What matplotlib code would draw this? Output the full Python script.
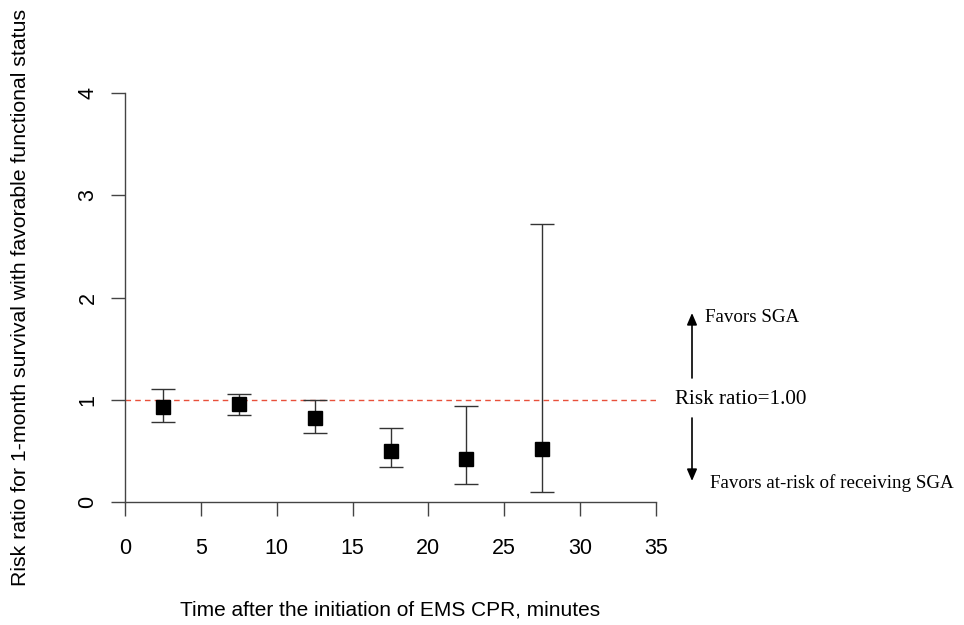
import matplotlib
matplotlib.use('Agg')
import matplotlib.pyplot as plt
import numpy as np

# time intervals (midpoints, minutes) and risk ratios with 95% CI
time_mid = [2.5, 7.5, 12.5, 17.5, 22.5, 27.5]
risk_ratio = [0.93, 0.96, 0.82, 0.50, 0.42, 0.52]
ci_lower = [0.78, 0.85, 0.67, 0.34, 0.18, 0.10]
ci_upper = [1.11, 1.06, 1.00, 0.72, 0.94, 2.72]

x_ticks = [0, 5, 10, 15, 20, 25, 30, 35]
y_ticks = [0, 1, 2, 3, 4]

sans = 'Liberation Sans'
serif = 'Liberation Serif'
axis_col = '#444444'

fig = plt.figure(figsize=(9.64, 6.25), dpi=100)
ax = fig.add_axes([125 / 964, 1 - 502 / 625, (656 - 125) / 964, (502 - 93) / 625])

rr = np.array(risk_ratio)
yerr = np.array([rr - np.array(ci_lower), np.array(ci_upper) - rr])

# reference line at 1
ax.plot([0, 35], [1, 1], color='#e8503a', linestyle=(0, (4, 3)), linewidth=1.0, zorder=1)

ax.errorbar(time_mid, rr, yerr=yerr, fmt='none', ecolor='#333333', elinewidth=1.0,
            capsize=8.5, capthick=1.0, zorder=2)
ax.plot(time_mid, rr, linestyle='none', marker='s', markersize=10, color='black', zorder=3)

ax.set_xlim(0, 35)
ax.set_ylim(0, 4)
ax.set_xticks(x_ticks)
ax.set_yticks(y_ticks)

for side in ('top', 'right'):
    ax.spines[side].set_visible(False)
for side in ('left', 'bottom'):
    ax.spines[side].set_color(axis_col)
    ax.spines[side].set_linewidth(1.0)

ax.tick_params(axis='both', direction='out', length=10, width=1.0, color=axis_col,
               labelsize=15.5)
ax.tick_params(axis='x', pad=16)
ax.tick_params(axis='y', pad=9)
for lab in ax.get_xticklabels():
    lab.set_fontfamily(sans)
for lab in ax.get_yticklabels():
    lab.set_fontfamily(sans)
    lab.set_rotation(90)
    lab.set_va('center')

fig.text(390 / 964, 1 - 610 / 625, 'Time after the initiation of EMS CPR, minutes',
         ha='center', va='center', fontsize=15, family=sans)
fig.text(21 / 964, 1 - 297 / 625, 'Risk ratio for 1-month survival with favorable functional status',
         ha='center', va='center', rotation=90, fontsize=15.3, family=sans)

# annotation at the right side
fig.text(675 / 964, 1 - 400 / 625, 'Risk ratio=1.00', ha='left', va='center', fontsize=15.2, family=serif)
fig.text(705 / 964, 1 - 317 / 625, 'Favors SGA', ha='left', va='center', fontsize=13.7, family=serif)
fig.text(710 / 964, 1 - 483 / 625, 'Favors at-risk of receiving SGA', ha='left', va='center',
         fontsize=13.7, family=serif)

arrow_kw = dict(arrowprops=dict(arrowstyle='-|>,head_length=0.7,head_width=0.3', color='black',
                                lw=1.2, shrinkA=0, shrinkB=0),
                xycoords='figure pixels', textcoords='figure pixels')
ax.annotate('', xy=(692, 625 - 313), xytext=(692, 625 - 378), **arrow_kw)
ax.annotate('', xy=(692, 625 - 481), xytext=(692, 625 - 418), **arrow_kw)

fig.savefig('out.png', dpi=100)
